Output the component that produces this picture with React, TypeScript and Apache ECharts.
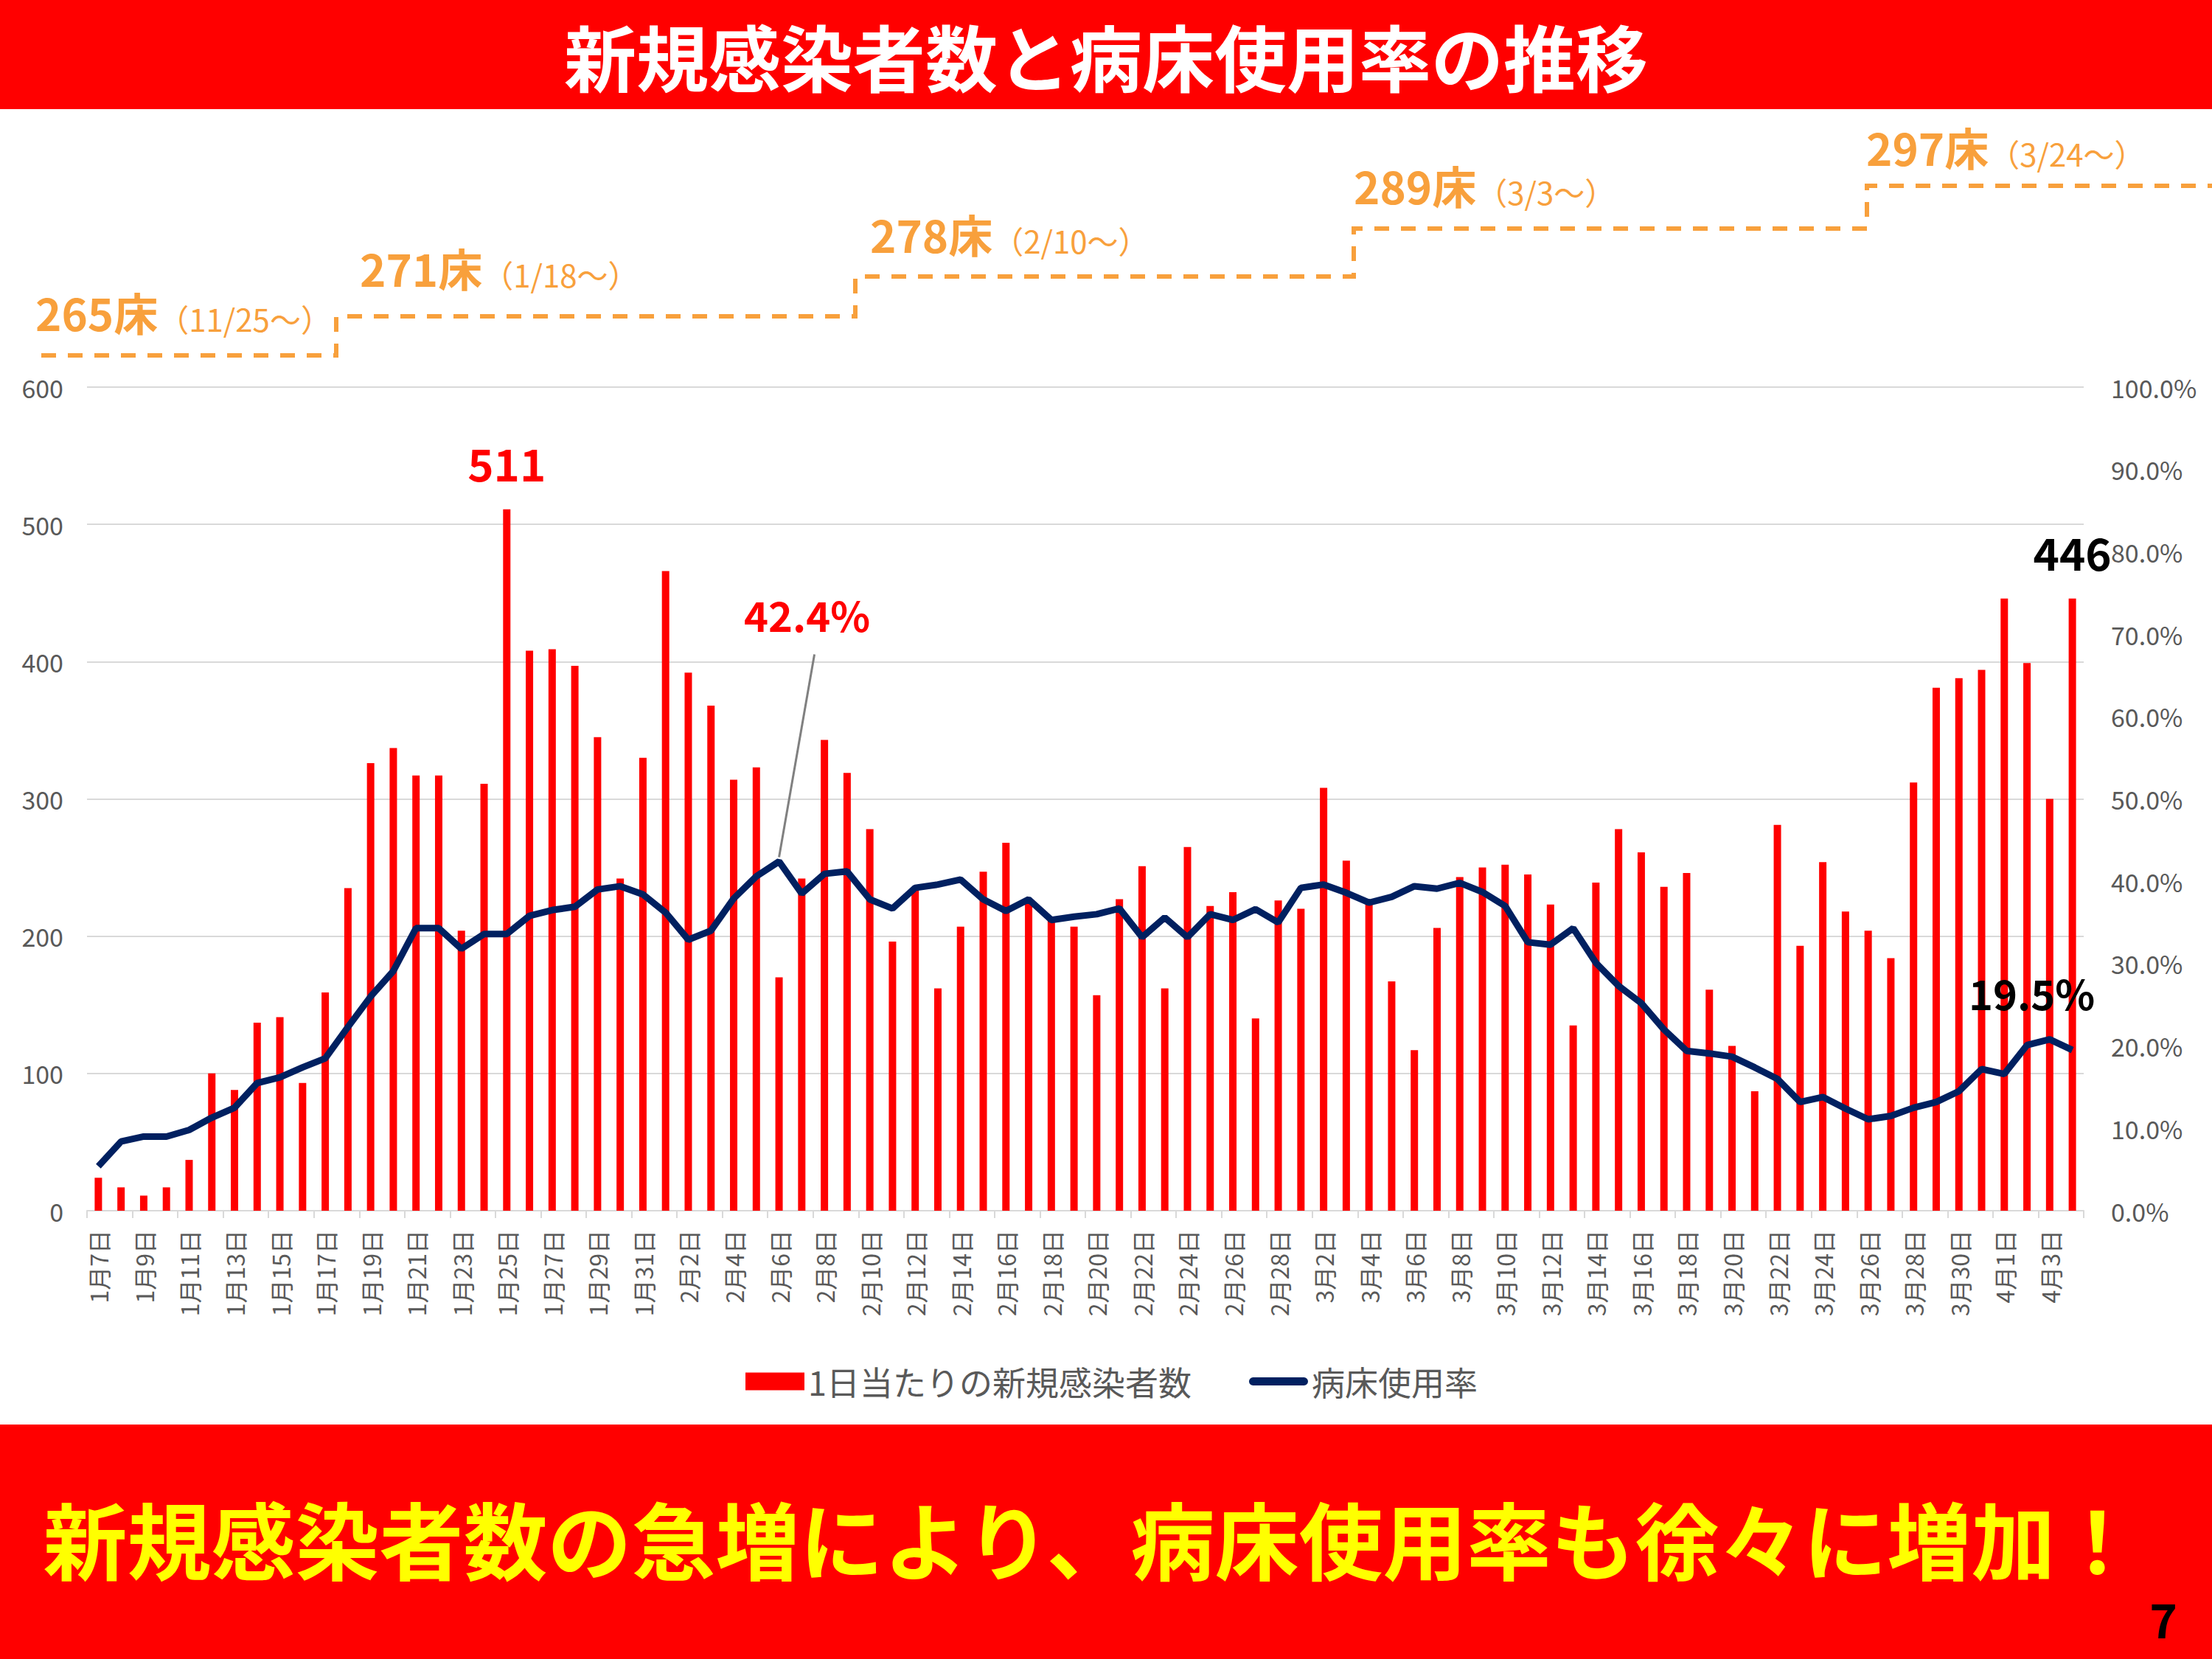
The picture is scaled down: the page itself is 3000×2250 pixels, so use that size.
import React, { useEffect, useRef } from "react";
import * as echarts from "echarts";

const FONT = '"Noto Sans CJK JP", "Noto Sans", sans-serif';

const categories = [
  "1月7日","1月8日","1月9日","1月10日","1月11日","1月12日","1月13日","1月14日","1月15日","1月16日",
  "1月17日","1月18日","1月19日","1月20日","1月21日","1月22日","1月23日","1月24日","1月25日","1月26日",
  "1月27日","1月28日","1月29日","1月30日","1月31日",
  "2月1日","2月2日","2月3日","2月4日","2月5日","2月6日","2月7日","2月8日","2月9日","2月10日",
  "2月11日","2月12日","2月13日","2月14日","2月15日","2月16日","2月17日","2月18日","2月19日","2月20日",
  "2月21日","2月22日","2月23日","2月24日","2月25日","2月26日","2月27日","2月28日",
  "3月1日","3月2日","3月3日","3月4日","3月5日","3月6日","3月7日","3月8日","3月9日","3月10日",
  "3月11日","3月12日","3月13日","3月14日","3月15日","3月16日","3月17日","3月18日","3月19日","3月20日",
  "3月21日","3月22日","3月23日","3月24日","3月25日","3月26日","3月27日","3月28日","3月29日","3月30日","3月31日",
  "4月1日","4月2日","4月3日","4月4日",
];

const newCases = [
  24, 17, 11, 17, 37, 100, 88, 137, 141, 93, 159, 235, 326, 337, 317, 317, 204, 311, 511, 408, 409, 397, 345, 242, 330,
  466, 392, 368, 314, 323, 170, 242, 343, 319, 278, 196, 235, 162, 207, 247, 268, 226, 213, 207, 157, 227, 251, 162, 265, 222, 232, 140, 226,
  220, 308, 255, 225, 167, 117, 206, 243, 250, 252, 245, 223, 135, 239, 278, 261, 236, 246, 161, 120, 87, 281, 193, 254, 218, 204, 184, 312, 381, 388, 394,
  446, 399, 300, 446,
];

const occupancy = [
  5.4, 8.4, 9.0, 9.0, 9.8, 11.3, 12.5, 15.5, 16.2, 17.4, 18.5, 22.3, 26.0, 29.1, 34.3, 34.3, 31.8, 33.6, 33.6, 35.8, 36.5, 36.9, 39.0, 39.4, 38.4,
  36.2, 32.9, 34.0, 37.9, 40.6, 42.4, 38.5, 40.9, 41.2, 37.8, 36.7, 39.2, 39.6, 40.2, 37.8, 36.4, 37.8, 35.3, 35.7, 36.0, 36.7, 33.2, 35.6, 33.2, 36.0, 35.3, 36.6, 35.0,
  39.2, 39.6, 38.6, 37.4, 38.1, 39.4, 39.1, 39.8, 38.7, 37.0, 32.6, 32.3, 34.3, 30.1, 27.3, 25.2, 22.0, 19.4, 19.1, 18.7, 17.4, 16.0, 13.2, 13.8, 12.4, 11.1, 11.5, 12.5, 13.2, 14.5, 17.2,
  16.6, 20.1, 20.8, 19.5,
];

const leftTicks = [0, 100, 200, 300, 400, 500, 600];
const rightTicks = [0, 10, 20, 30, 40, 50, 60, 70, 80, 90, 100];

const barLabelIdx = [18, 87];
const barLabelColors = ["#FF0000", "#000000"];
const peakOccIdx = 30;
const lastOccIdx = 87;

const bedNumbers = ["265床", "271床", "278床", "289床", "297床"];
const bedDates = ["（11/25～）", "（1/18～）", "（2/10～）", "（3/3～）", "（3/24～）"];

const TITLE = "新規感染者数と病床使用率の推移";
const FOOTER = "新規感染者数の急増により、病床使用率も徐々に増加！";
const SERIES_BAR = "1日当たりの新規感染者数";
const SERIES_LINE = "病床使用率";

const ORANGE = "#F8A03C";

export default function App() {
  const ref = useRef<HTMLDivElement>(null);
  useEffect(() => {
    if (!ref.current) return;
    const chart = echarts.init(ref.current, undefined, { renderer: "svg" });

    const bedLinePts = [
      [56, 482], [456, 482], [456, 429], [1160, 429], [1160, 375], [1836, 375],
      [1836, 310], [2532, 310], [2532, 252], [3000, 252],
    ];
    const bedLabelPos = [
      [48, 452], [488, 392], [1180, 346], [1836, 280], [2531, 228],
    ];

    const staticGraphic: any[] = [
      { type: "rect", shape: { x: 0, y: 0, width: 3000, height: 148 }, style: { fill: "#FF0000" }, z: 1 },
      {
        type: "text", x: 1500, y: 74, z: 2,
        style: { text: TITLE, fill: "#FFFFFF", fontSize: 98, lineHeight: 100, fontWeight: "bold", fontFamily: FONT, align: "center", verticalAlign: "middle" },
      },
      { type: "rect", shape: { x: 0, y: 1932, width: 3000, height: 318 }, style: { fill: "#FF0000" }, z: 1 },
      {
        type: "text", x: 1480, y: 2084, z: 2,
        style: { text: FOOTER, fill: "#FFFF00", fontSize: 114, lineHeight: 118, fontWeight: "bold", fontFamily: FONT, align: "center", verticalAlign: "middle" },
      },
      {
        type: "text", x: 2934, y: 2194, z: 2,
        style: { text: "7", fill: "#000000", fontSize: 64, lineHeight: 66, fontWeight: "bold", fontFamily: FONT, align: "center", verticalAlign: "middle" },
      },
      {
        type: "polyline", z: 1,
        shape: { points: bedLinePts },
        style: { stroke: ORANGE, lineWidth: 6, lineDash: [20, 16], fill: "none" },
      },
      ...bedNumbers.map((b, i) => ({
        type: "text", x: bedLabelPos[i][0], y: bedLabelPos[i][1], z: 2,
        style: {
          text: `{a|${b}}{b|${bedDates[i]}}`,
          verticalAlign: "bottom",
          rich: {
            a: { fontSize: 60, lineHeight: 66, fontWeight: "bold", fill: ORANGE, color: ORANGE, fontFamily: FONT, verticalAlign: "bottom" },
            b: { fontSize: 42, lineHeight: 50, fill: ORANGE, color: ORANGE, fontFamily: FONT, verticalAlign: "bottom" },
          },
        },
      })),
    ];

    const barData = newCases.map((v, i) => {
      const k = barLabelIdx.indexOf(i);
      if (k < 0) return v;
      return {
        value: v,
        label: {
          show: true, position: "top", distance: 34, formatter: "{c}",
          fontSize: 60, fontWeight: "bold", color: barLabelColors[k], fontFamily: FONT,
        },
      };
    });

    const option: any = {
      animation: false,
      textStyle: { fontFamily: FONT },
      grid: { left: 118, right: 174, top: 525, bottom: 608, containLabel: false },
      legend: {
        data: [
          { name: SERIES_BAR, icon: "rect" },
          { name: SERIES_LINE, icon: "path://M6,0 H82 A6,6 0 0 1 82,12 H6 A6,6 0 0 1 6,0 Z" },
        ],
        left: 1006, top: 1846,
        itemWidth: 80, itemHeight: 24, itemGap: 78,
        textStyle: { fontSize: 45, color: "#595959", fontFamily: FONT },
      },
      xAxis: {
        type: "category", data: categories, boundaryGap: true,
        axisLine: { lineStyle: { color: "#D9D9D9", width: 2 } },
        axisTick: { show: true, interval: 1, length: 10, lineStyle: { color: "#D9D9D9", width: 2 } },
        axisLabel: { interval: 1, rotate: 90, fontSize: 32, color: "#595959", margin: 26, fontFamily: FONT },
      },
      yAxis: [
        {
          type: "value", min: leftTicks[0], max: leftTicks[leftTicks.length - 1], interval: leftTicks[1] - leftTicks[0],
          axisLine: { show: false }, axisTick: { show: false },
          axisLabel: { fontSize: 34, color: "#595959", margin: 32, fontFamily: FONT },
          splitLine: { lineStyle: { color: "#D9D9D9", width: 2 } },
        },
        {
          type: "value", min: rightTicks[0], max: rightTicks[rightTicks.length - 1], interval: rightTicks[1] - rightTicks[0],
          position: "right",
          axisLine: { show: false }, axisTick: { show: false },
          axisLabel: { fontSize: 34, color: "#595959", margin: 37, fontFamily: FONT, formatter: (v: number) => v.toFixed(1) + "%" },
          splitLine: { show: false },
        },
      ],
      series: [
        {
          name: SERIES_BAR, type: "bar", data: barData, barWidth: 10,
          itemStyle: { color: "#FF0000" }, z: 2,
        },
        {
          name: SERIES_LINE, type: "line", yAxisIndex: 1, data: occupancy,
          showSymbol: false, symbol: "none",
          lineStyle: { color: "#002060", width: 9 }, itemStyle: { color: "#002060" }, z: 3,
        },
      ],
      graphic: staticGraphic,
    };
    chart.setOption(option);

    const pPeak = chart.convertToPixel({ seriesIndex: 1 }, [peakOccIdx, occupancy[peakOccIdx]]) as number[];
    const pLast = chart.convertToPixel({ seriesIndex: 1 }, [lastOccIdx, occupancy[lastOccIdx]]) as number[];

    const annot: any[] = [
      {
        type: "line", z: 50,
        shape: { x1: pPeak[0], y1: pPeak[1] - 6, x2: pPeak[0] + 48, y2: pPeak[1] - 281 },
        style: { stroke: "#808080", lineWidth: 3 },
      },
      {
        type: "text", x: pPeak[0] + 38, y: pPeak[1] - 336, z: 50,
        style: {
          text: occupancy[peakOccIdx].toFixed(1) + "%", fill: "#FF0000", fontSize: 56, fontWeight: "bold",
          fontFamily: FONT, align: "center", verticalAlign: "middle",
        },
      },
      {
        type: "text", x: pLast[0] - 55, y: pLast[1] - 79, z: 50,
        style: {
          text: occupancy[lastOccIdx].toFixed(1) + "%", fill: "#000000", fontSize: 56, fontWeight: "bold",
          fontFamily: FONT, align: "center", verticalAlign: "middle",
        },
      },
    ];
    chart.setOption({ graphic: [...staticGraphic, ...annot] });

    return () => chart.dispose();
  }, []);

  return (
    <div
      ref={ref}
      style={{ position: "absolute", left: 0, top: 0, width: 3000, height: 2250, background: "#FFFFFF" }}
    />
  );
}
